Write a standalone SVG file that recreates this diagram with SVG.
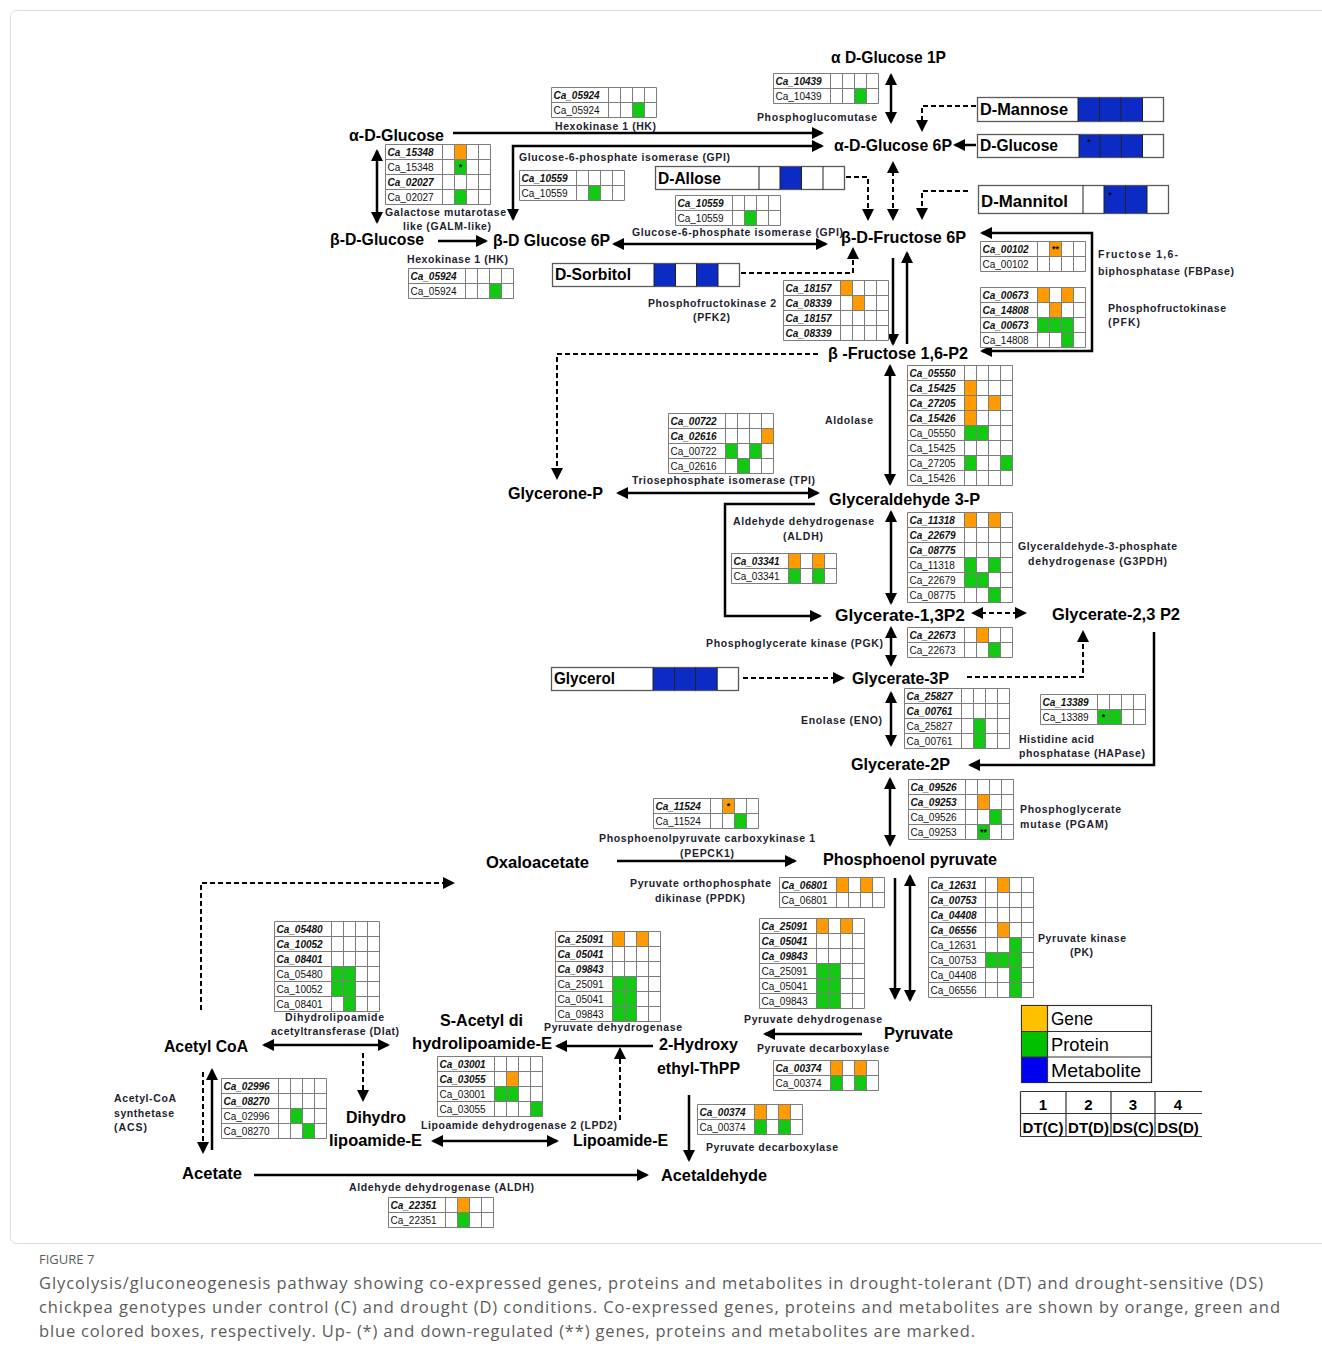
<svg xmlns="http://www.w3.org/2000/svg" xmlns:xlink="http://www.w3.org/1999/xlink" width="1322" height="1364" viewBox="0 0 1322 1364">
<style>
text{font-family:'Liberation Sans',Arial,sans-serif}
.n{font-weight:bold;font-size:17px;fill:#000}
.m{font-weight:bold;font-size:17px;fill:#000}
.e{font-weight:bold;font-size:10.5px;fill:#1e1e30}
.gi{font-style:italic;font-weight:bold;font-size:10px;fill:#111}
.gr{font-size:10px;fill:#111}
.st{font-weight:bold;font-size:9px;fill:#000;text-anchor:middle}
.tb{fill:#fff}
.gl{fill:none;stroke:#7d7d7d;stroke-width:1}
.o{fill:#FF9A00}
.g{fill:#12C812}
.b{fill:#0B2BC4}
.mb{fill:#fff;stroke:#5a5a5a;stroke-width:1.3}
.cl{stroke:#222;stroke-width:1;fill:none}
.ln{fill:none;stroke:#000;stroke-width:2.5}
.dl{fill:none;stroke:#000;stroke-width:2;stroke-dasharray:5 3}
.ae{marker-end:url(#ah)}
.ab{marker-start:url(#ah);marker-end:url(#ah)}
.lg{font-size:19px;fill:#000}
.nt{font-weight:bold;font-size:15px;fill:#000;text-anchor:middle}
.cap{font-family:'Open Sans','Liberation Sans',sans-serif;font-size:16.5px;fill:#5c5c5c}
.fig{font-family:'Open Sans','Liberation Sans',sans-serif;font-size:13px;fill:#5c5c5c}
</style>
<defs>
<marker id="ah" viewBox="0 0 12 12" refX="10" refY="6" markerWidth="12" markerHeight="12" markerUnits="userSpaceOnUse" orient="auto-start-reverse"><path d="M0,0L12,6L0,12z" fill="#000"/></marker>
<path id="g2" class="gl" d="M0,0H105V30H0ZM0,15H105M57,0V30M69,0V30M81,0V30M93,0V30"/>
<path id="g4" class="gl" d="M0,0H105V60H0ZM0,15H105M0,30H105M0,45H105M57,0V60M69,0V60M81,0V60M93,0V60"/>
<path id="g6" class="gl" d="M0,0H105V90H0ZM0,15H105M0,30H105M0,45H105M0,60H105M0,75H105M57,0V90M69,0V90M81,0V90M93,0V90"/>
<path id="g8" class="gl" d="M0,0H105V120H0ZM0,15H105M0,30H105M0,45H105M0,60H105M0,75H105M0,90H105M0,105H105M57,0V120M69,0V120M81,0V120M93,0V120"/>
</defs>
<rect width="1322" height="1364" fill="#fff"/>
<rect x="10.5" y="10.5" width="1330" height="1233" rx="6" fill="none" stroke="#ddd"/>

<!-- connectors -->
<g id="connectors">
<path class="ln ab" d="M891,75V122"/>
<path class="ln ae" d="M453,133H822"/>
<path class="ln ab" d="M822,146H513V219"/>
<path class="ln ab" d="M377,151V222"/>
<path class="ln ae" d="M438,241H486"/>
<path class="ln ab" d="M614,244H826"/>
<path class="dl ae" d="M846,177H868V219"/>
<path class="dl ab" d="M893,163V219"/>
<path class="dl ae" d="M976,106H922V130"/>
<path class="ln ae" d="M976,145H955"/>
<path class="dl ae" d="M968,191H922V218"/>
<path class="dl ae" d="M741,273H853V249"/>
<path class="ln ae" d="M893,258V344"/>
<path class="ln ae" d="M907,344V253"/>
<path class="ln ab" d="M982,233H1092V351H982"/>
<path class="dl ae" d="M818,354H557V478"/>
<path class="ln ab" d="M890,366V484"/>
<path class="ln ab" d="M618,493H818"/>
<path class="ln ae" d="M815,504H725V616H820"/>
<path class="ln ab" d="M891,512V603"/>
<path class="dl ab" d="M973,613H1025"/>
<path class="ln ab" d="M891,628V665"/>
<path class="dl ae" d="M743,678H843"/>
<path class="dl ae" d="M967,677H1083V632"/>
<path class="ln ae" d="M1154,632V765H970"/>
<path class="ln ab" d="M891,693V745"/>
<path class="ln ab" d="M890,779V845"/>
<path class="ln ae" d="M617,861H795"/>
<path class="ln ae" d="M895,878V998"/>
<path class="ln ab" d="M910,876V1000"/>
<path class="ln ae" d="M862,1034H765"/>
<path class="ln ae" d="M653,1046H557"/>
<path class="dl ae" d="M620,1120V1049"/>
<path class="ln ab" d="M264,1045H388"/>
<path class="dl ae" d="M363,1053V1100"/>
<path class="dl ae" d="M201,1010V883H453"/>
<path class="dl ae" d="M203,1072V1152"/>
<path class="ln ae" d="M212,1150V1070"/>
<path class="ln ab" d="M433,1141H557"/>
<path class="ln ae" d="M254,1175H647"/>
<path class="ln ae" d="M689,1095V1160"/>
</g>

<!-- nodes -->
<g id="n-ag1p"><text class="n" x="831" y="63" textLength="115" lengthAdjust="spacingAndGlyphs">α D-Glucose 1P</text></g>
<g id="n-ag6p"><text class="n" x="834" y="151" textLength="118" lengthAdjust="spacingAndGlyphs">α-D-Glucose 6P</text></g>
<g id="n-adg"><text class="n" x="349" y="141" textLength="95" lengthAdjust="spacingAndGlyphs">α-D-Glucose</text></g>
<g id="n-bdg"><text class="n" x="330" y="245" textLength="94" lengthAdjust="spacingAndGlyphs">β-D-Glucose</text></g>
<g id="n-bg6p"><text class="n" x="493" y="246" textLength="117" lengthAdjust="spacingAndGlyphs">β-D Glucose 6P</text></g>
<g id="n-bf6p"><text class="n" x="841" y="243" textLength="125" lengthAdjust="spacingAndGlyphs">β-D-Fructose 6P</text></g>
<g id="n-bf16"><text class="n" x="828" y="359" textLength="140" lengthAdjust="spacingAndGlyphs">β -Fructose 1,6-P2</text></g>
<g id="n-glycp"><text class="n" x="508" y="499" textLength="95" lengthAdjust="spacingAndGlyphs">Glycerone-P</text></g>
<g id="n-g3p"><text class="n" x="829" y="505" textLength="151" lengthAdjust="spacingAndGlyphs">Glyceraldehyde 3-P</text></g>
<g id="n-g13"><text class="n" x="835" y="621" textLength="130" lengthAdjust="spacingAndGlyphs">Glycerate-1,3P2</text></g>
<g id="n-g23"><text class="n" x="1052" y="620" textLength="128" lengthAdjust="spacingAndGlyphs">Glycerate-2,3 P2</text></g>
<g id="n-g3"><text class="n" x="852" y="684" textLength="97" lengthAdjust="spacingAndGlyphs">Glycerate-3P</text></g>
<g id="n-g2"><text class="n" x="851" y="770" textLength="99" lengthAdjust="spacingAndGlyphs">Glycerate-2P</text></g>
<g id="n-pep"><text class="n" x="823" y="865" textLength="174" lengthAdjust="spacingAndGlyphs">Phosphoenol pyruvate</text></g>
<g id="n-oxa"><text class="n" x="486" y="868" textLength="103" lengthAdjust="spacingAndGlyphs">Oxaloacetate</text></g>
<g id="n-pyr"><text class="n" x="884" y="1039" textLength="69" lengthAdjust="spacingAndGlyphs">Pyruvate</text></g>
<g id="n-acoa"><text class="n" x="164" y="1052" textLength="84" lengthAdjust="spacingAndGlyphs">Acetyl CoA</text></g>
<g id="n-sacetyl"><text class="n" x="440" y="1026" textLength="83" lengthAdjust="spacingAndGlyphs">S-Acetyl di</text><text class="n" x="412" y="1049" textLength="140" lengthAdjust="spacingAndGlyphs">hydrolipoamide-E</text></g>
<g id="n-hethpp"><text class="n" x="659" y="1050" textLength="79" lengthAdjust="spacingAndGlyphs">2-Hydroxy</text><text class="n" x="657" y="1074" textLength="83" lengthAdjust="spacingAndGlyphs">ethyl-ThPP</text></g>
<g id="n-dihydro"><text class="n" x="346" y="1123" textLength="60" lengthAdjust="spacingAndGlyphs">Dihydro</text><text class="n" x="329" y="1146" textLength="93" lengthAdjust="spacingAndGlyphs">lipoamide-E</text></g>
<g id="n-lipo"><text class="n" x="573" y="1146" textLength="95" lengthAdjust="spacingAndGlyphs">Lipoamide-E</text></g>
<g id="n-acetate"><text class="n" x="182" y="1179" textLength="60" lengthAdjust="spacingAndGlyphs">Acetate</text></g>
<g id="n-acetald"><text class="n" x="661" y="1181" textLength="106" lengthAdjust="spacingAndGlyphs">Acetaldehyde</text></g>

<!-- metabolite boxes -->
<g id="m-mannose">
<rect class="mb" x="977.5" y="97.5" width="186" height="24"/>
<rect class="b" x="1078" y="98" width="64.5" height="23"/>
<path class="cl" d="M1078,97.5V121.5M1099.5,97.5V121.5M1121,97.5V121.5M1142.5,97.5V121.5"/>
<text class="m" x="980" y="115" textLength="88" lengthAdjust="spacingAndGlyphs">D-Mannose</text>
</g>
<g id="m-glucose">
<rect class="mb" x="977.5" y="134.5" width="186" height="23"/>
<rect class="b" x="1079" y="135" width="63.5" height="22"/>
<path class="cl" d="M1079,134.5V157.5M1100,134.5V157.5M1121.5,134.5V157.5M1142.5,134.5V157.5"/>
<text class="st" x="1089" y="145">*</text>
<text class="m" x="980" y="151" textLength="78" lengthAdjust="spacingAndGlyphs">D-Glucose</text>
</g>
<g id="m-mannitol">
<rect class="mb" x="978.5" y="185.5" width="190" height="28"/>
<rect class="b" x="1104" y="186" width="43" height="27"/>
<path class="cl" d="M1083,185.5V213.5M1104,185.5V213.5M1125.5,185.5V213.5M1147,185.5V213.5"/>
<text class="st" x="1110" y="198">*</text>
<text class="m" x="981" y="207" textLength="87" lengthAdjust="spacingAndGlyphs">D-Mannitol</text>
</g>
<g id="m-allose">
<rect class="mb" x="655.5" y="166.5" width="189" height="23"/>
<rect class="b" x="780" y="167" width="21.5" height="22"/>
<path class="cl" d="M759,166.5V189.5M780,166.5V189.5M801.5,166.5V189.5M823,166.5V189.5"/>
<text class="m" x="658" y="184" textLength="63" lengthAdjust="spacingAndGlyphs">D-Allose</text>
</g>
<g id="m-sorbitol">
<rect class="mb" x="552.5" y="263.5" width="187" height="23"/>
<rect class="b" x="654" y="264" width="21.5" height="22"/>
<rect class="b" x="696.5" y="264" width="21.5" height="22"/>
<path class="cl" d="M654,263.5V286.5M675.5,263.5V286.5M696.5,263.5V286.5M718,263.5V286.5"/>
<text class="m" x="555" y="280" textLength="76" lengthAdjust="spacingAndGlyphs">D-Sorbitol</text>
</g>
<g id="m-glycerol">
<rect class="mb" x="551.5" y="667.5" width="187" height="23"/>
<rect class="b" x="653" y="668" width="64.5" height="22"/>
<path class="cl" d="M653,667.5V690.5M674.5,667.5V690.5M695.5,667.5V690.5M717,667.5V690.5"/>
<text class="m" x="554" y="684" textLength="61" lengthAdjust="spacingAndGlyphs">Glycerol</text>
</g>

<!-- enzyme tables -->
<g id="enz-hk1">
<text class="e" x="555" y="130" textLength="101">Hexokinase 1 (HK)</text>
<g transform="translate(551.5,87.5)"><rect class="tb" width="105" height="30"/><rect class="g" x="81" y="15" width="12" height="15"/><use href="#g2"/><text class="gi" x="2" y="11">Ca_05924</text><text class="gr" x="2" y="26">Ca_05924</text></g>
</g>
<g id="enz-pgm">
<text class="e" x="757" y="121" textLength="120">Phosphoglucomutase</text>
<g transform="translate(773.5,73.5)"><rect class="tb" width="105" height="30"/><rect class="g" x="81" y="15" width="12" height="15"/><use href="#g2"/><text class="gi" x="2" y="11">Ca_10439</text><text class="gr" x="2" y="26">Ca_10439</text></g>
</g>
<g id="enz-galm">
<text class="e" x="385" y="216" textLength="121">Galactose mutarotase</text>
<text class="e" x="403" y="230" textLength="88">like (GALM-like)</text>
<g transform="translate(385.5,144.5)"><rect class="tb" width="105" height="60"/><rect class="o" x="69" y="0" width="12" height="15"/><rect class="g" x="69" y="15" width="12" height="15"/><rect class="g" x="69" y="45" width="12" height="15"/><use href="#g4"/><text class="st" x="75" y="25">*</text><text class="gi" x="2" y="11">Ca_15348</text><text class="gr" x="2" y="26">Ca_15348</text><text class="gi" x="2" y="41">Ca_02027</text><text class="gr" x="2" y="56">Ca_02027</text></g>
</g>
<g id="enz-gpi1">
<text class="e" x="519" y="161" textLength="211">Glucose-6-phosphate isomerase (GPI)</text>
<g transform="translate(519.5,170.5)"><rect class="tb" width="105" height="30"/><rect class="g" x="69" y="15" width="12" height="15"/><use href="#g2"/><text class="gi" x="2" y="11">Ca_10559</text><text class="gr" x="2" y="26">Ca_10559</text></g>
</g>
<g id="enz-gpi2">
<text class="e" x="632" y="236" textLength="211">Glucose-6-phosphate isomerase (GPI)</text>
<g transform="translate(675.5,195.5)"><rect class="tb" width="105" height="30"/><rect class="g" x="69" y="15" width="12" height="15"/><use href="#g2"/><text class="gi" x="2" y="11">Ca_10559</text><text class="gr" x="2" y="26">Ca_10559</text></g>
</g>
<g id="enz-hk2">
<text class="e" x="407" y="263" textLength="101">Hexokinase 1 (HK)</text>
<g transform="translate(408.5,268.5)"><rect class="tb" width="105" height="30"/><rect class="g" x="81" y="15" width="12" height="15"/><use href="#g2"/><text class="gi" x="2" y="11">Ca_05924</text><text class="gr" x="2" y="26">Ca_05924</text></g>
</g>
<g id="enz-pfk2">
<text class="e" x="648" y="307" textLength="128">Phosphofructokinase 2</text>
<text class="e" x="693" y="321" textLength="37">(PFK2)</text>
<g transform="translate(783.5,280.5)"><rect class="tb" width="105" height="60"/><rect class="o" x="57" y="0" width="12" height="15"/><rect class="o" x="69" y="15" width="12" height="15"/><use href="#g4"/><text class="gi" x="2" y="11">Ca_18157</text><text class="gi" x="2" y="26">Ca_08339</text><text class="gi" x="2" y="41">Ca_18157</text><text class="gi" x="2" y="56">Ca_08339</text></g>
</g>
<g id="enz-fbp">
<text class="e" x="1098" y="258" textLength="80">Fructose 1,6-</text>
<text class="e" x="1098" y="275" textLength="136">biphosphatase (FBPase)</text>
<g transform="translate(980.5,241.5)"><rect class="tb" width="105" height="30"/><rect class="o" x="69" y="0" width="12" height="15"/><use href="#g2"/><text class="st" x="75" y="10">**</text><text class="gi" x="2" y="11">Ca_00102</text><text class="gr" x="2" y="26">Ca_00102</text></g>
</g>
<g id="enz-pfk">
<text class="e" x="1108" y="312" textLength="118">Phosphofructokinase</text>
<text class="e" x="1108" y="326" textLength="32">(PFK)</text>
<g transform="translate(980.5,287.5)"><rect class="tb" width="105" height="60"/><rect class="o" x="57" y="0" width="12" height="15"/><rect class="o" x="81" y="0" width="12" height="15"/><rect class="o" x="69" y="15" width="12" height="15"/><rect class="g" x="57" y="30" width="36" height="15"/><rect class="g" x="81" y="45" width="12" height="15"/><use href="#g4"/><text class="gi" x="2" y="11">Ca_00673</text><text class="gi" x="2" y="26">Ca_14808</text><text class="gi" x="2" y="41">Ca_00673</text><text class="gr" x="2" y="56">Ca_14808</text></g>
</g>
<g id="enz-ald">
<text class="e" x="825" y="424" textLength="48">Aldolase</text>
<g transform="translate(907.5,365.5)"><rect class="tb" width="105" height="120"/><rect class="o" x="57" y="15" width="12" height="45"/><rect class="o" x="81" y="30" width="12" height="15"/><rect class="g" x="57" y="60" width="24" height="15"/><rect class="g" x="57" y="90" width="12" height="15"/><rect class="g" x="93" y="90" width="12" height="15"/><use href="#g8"/><text class="gi" x="2" y="11">Ca_05550</text><text class="gi" x="2" y="26">Ca_15425</text><text class="gi" x="2" y="41">Ca_27205</text><text class="gi" x="2" y="56">Ca_15426</text><text class="gr" x="2" y="71">Ca_05550</text><text class="gr" x="2" y="86">Ca_15425</text><text class="gr" x="2" y="101">Ca_27205</text><text class="gr" x="2" y="116">Ca_15426</text></g>
</g>
<g id="enz-tpi">
<text class="e" x="632" y="484" textLength="183">Triosephosphate isomerase (TPI)</text>
<g transform="translate(668.5,413.5)"><rect class="tb" width="105" height="60"/><rect class="o" x="93" y="15" width="12" height="15"/><rect class="g" x="57" y="30" width="12" height="15"/><rect class="g" x="81" y="30" width="12" height="15"/><rect class="g" x="69" y="45" width="12" height="15"/><use href="#g4"/><text class="gi" x="2" y="11">Ca_00722</text><text class="gi" x="2" y="26">Ca_02616</text><text class="gr" x="2" y="41">Ca_00722</text><text class="gr" x="2" y="56">Ca_02616</text></g>
</g>
<g id="enz-g3pdh">
<text class="e" x="1018" y="550" textLength="159">Glyceraldehyde-3-phosphate</text>
<text class="e" x="1028" y="565" textLength="139">dehydrogenase (G3PDH)</text>
<g transform="translate(907.5,512.5)"><rect class="tb" width="105" height="90"/><rect class="o" x="57" y="0" width="12" height="15"/><rect class="o" x="81" y="0" width="12" height="15"/><rect class="g" x="57" y="45" width="12" height="15"/><rect class="g" x="81" y="45" width="12" height="15"/><rect class="g" x="57" y="60" width="24" height="15"/><rect class="g" x="81" y="75" width="12" height="15"/><use href="#g6"/><text class="gi" x="2" y="11">Ca_11318</text><text class="gi" x="2" y="26">Ca_22679</text><text class="gi" x="2" y="41">Ca_08775</text><text class="gr" x="2" y="56">Ca_11318</text><text class="gr" x="2" y="71">Ca_22679</text><text class="gr" x="2" y="86">Ca_08775</text></g>
</g>
<g id="enz-aldh1">
<text class="e" x="733" y="525" textLength="141">Aldehyde dehydrogenase</text>
<text class="e" x="783" y="540" textLength="40">(ALDH)</text>
<g transform="translate(731.5,553.5)"><rect class="tb" width="105" height="30"/><rect class="o" x="57" y="0" width="12" height="15"/><rect class="o" x="81" y="0" width="12" height="15"/><rect class="g" x="57" y="15" width="12" height="15"/><rect class="g" x="81" y="15" width="12" height="15"/><use href="#g2"/><text class="gi" x="2" y="11">Ca_03341</text><text class="gr" x="2" y="26">Ca_03341</text></g>
</g>
<g id="enz-pgk">
<text class="e" x="706" y="647" textLength="177">Phosphoglycerate kinase (PGK)</text>
<g transform="translate(907.5,627.5)"><rect class="tb" width="105" height="30"/><rect class="o" x="69" y="0" width="12" height="15"/><rect class="g" x="81" y="15" width="12" height="15"/><use href="#g2"/><text class="gi" x="2" y="11">Ca_22673</text><text class="gr" x="2" y="26">Ca_22673</text></g>
</g>
<g id="enz-eno">
<text class="e" x="801" y="724" textLength="81">Enolase (ENO)</text>
<g transform="translate(904.5,688.5)"><rect class="tb" width="105" height="60"/><rect class="g" x="69" y="30" width="12" height="30"/><use href="#g4"/><text class="gi" x="2" y="11">Ca_25827</text><text class="gi" x="2" y="26">Ca_00761</text><text class="gr" x="2" y="41">Ca_25827</text><text class="gr" x="2" y="56">Ca_00761</text></g>
</g>
<g id="enz-hap">
<text class="e" x="1019" y="743" textLength="75">Histidine acid</text>
<text class="e" x="1019" y="757" textLength="126">phosphatase (HAPase)</text>
<g transform="translate(1040.5,694.5)"><rect class="tb" width="105" height="30"/><rect class="g" x="57" y="15" width="24" height="15"/><use href="#g2"/><text class="st" x="63" y="25">*</text><text class="gi" x="2" y="11">Ca_13389</text><text class="gr" x="2" y="26">Ca_13389</text></g>
</g>
<g id="enz-pgam">
<text class="e" x="1020" y="813" textLength="101">Phosphoglycerate</text>
<text class="e" x="1020" y="828" textLength="88">mutase (PGAM)</text>
<g transform="translate(908.5,779.5)"><rect class="tb" width="105" height="60"/><rect class="o" x="69" y="15" width="12" height="15"/><rect class="g" x="81" y="30" width="12" height="15"/><rect class="g" x="69" y="45" width="12" height="15"/><use href="#g4"/><text class="st" x="75" y="55">**</text><text class="gi" x="2" y="11">Ca_09526</text><text class="gi" x="2" y="26">Ca_09253</text><text class="gr" x="2" y="41">Ca_09526</text><text class="gr" x="2" y="56">Ca_09253</text></g>
</g>
<g id="enz-pepck">
<text class="e" x="599" y="842" textLength="216">Phosphoenolpyruvate carboxykinase 1</text>
<text class="e" x="680" y="857" textLength="54">(PEPCK1)</text>
<g transform="translate(653.5,798.5)"><rect class="tb" width="105" height="30"/><rect class="o" x="69" y="0" width="12" height="15"/><rect class="g" x="81" y="15" width="12" height="15"/><use href="#g2"/><text class="st" x="75" y="10">*</text><text class="gi" x="2" y="11">Ca_11524</text><text class="gr" x="2" y="26">Ca_11524</text></g>
</g>
<g id="enz-ppdk">
<text class="e" x="630" y="887" textLength="141">Pyruvate orthophosphate</text>
<text class="e" x="655" y="902" textLength="90">dikinase (PPDK)</text>
<g transform="translate(779.5,877.5)"><rect class="tb" width="105" height="30"/><rect class="o" x="57" y="0" width="12" height="15"/><rect class="o" x="81" y="0" width="12" height="15"/><use href="#g2"/><text class="gi" x="2" y="11">Ca_06801</text><text class="gr" x="2" y="26">Ca_06801</text></g>
</g>
<g id="enz-pdh1">
<text class="e" x="544" y="1031" textLength="138">Pyruvate dehydrogenase</text>
<g transform="translate(555.5,931.5)"><rect class="tb" width="105" height="90"/><rect class="o" x="57" y="0" width="12" height="15"/><rect class="o" x="81" y="0" width="12" height="15"/><rect class="g" x="57" y="45" width="24" height="45"/><use href="#g6"/><text class="gi" x="2" y="11">Ca_25091</text><text class="gi" x="2" y="26">Ca_05041</text><text class="gi" x="2" y="41">Ca_09843</text><text class="gr" x="2" y="56">Ca_25091</text><text class="gr" x="2" y="71">Ca_05041</text><text class="gr" x="2" y="86">Ca_09843</text></g>
</g>
<g id="enz-pdh2">
<text class="e" x="744" y="1023" textLength="138">Pyruvate dehydrogenase</text>
<g transform="translate(759.5,918.5)"><rect class="tb" width="105" height="90"/><rect class="o" x="57" y="0" width="12" height="15"/><rect class="o" x="81" y="0" width="12" height="15"/><rect class="g" x="57" y="45" width="24" height="45"/><use href="#g6"/><text class="gi" x="2" y="11">Ca_25091</text><text class="gi" x="2" y="26">Ca_05041</text><text class="gi" x="2" y="41">Ca_09843</text><text class="gr" x="2" y="56">Ca_25091</text><text class="gr" x="2" y="71">Ca_05041</text><text class="gr" x="2" y="86">Ca_09843</text></g>
</g>
<g id="enz-pk">
<text class="e" x="1038" y="942" textLength="88">Pyruvate kinase</text>
<text class="e" x="1070" y="956" textLength="23">(PK)</text>
<g transform="translate(928.5,877.5)"><rect class="tb" width="105" height="120"/><rect class="o" x="69" y="0" width="12" height="15"/><rect class="o" x="69" y="45" width="12" height="15"/><rect class="g" x="81" y="60" width="12" height="60"/><rect class="g" x="57" y="75" width="24" height="15"/><use href="#g8"/><text class="gi" x="2" y="11">Ca_12631</text><text class="gi" x="2" y="26">Ca_00753</text><text class="gi" x="2" y="41">Ca_04408</text><text class="gi" x="2" y="56">Ca_06556</text><text class="gr" x="2" y="71">Ca_12631</text><text class="gr" x="2" y="86">Ca_00753</text><text class="gr" x="2" y="101">Ca_04408</text><text class="gr" x="2" y="116">Ca_06556</text></g>
</g>
<g id="enz-pdc1">
<text class="e" x="757" y="1052" textLength="132">Pyruvate decarboxylase</text>
<g transform="translate(773.5,1060.5)"><rect class="tb" width="105" height="30"/><rect class="o" x="57" y="0" width="12" height="15"/><rect class="o" x="81" y="0" width="12" height="15"/><rect class="g" x="57" y="15" width="12" height="15"/><rect class="g" x="81" y="15" width="12" height="15"/><use href="#g2"/><text class="gi" x="2" y="11">Ca_00374</text><text class="gr" x="2" y="26">Ca_00374</text></g>
</g>
<g id="enz-pdc2">
<text class="e" x="706" y="1151" textLength="132">Pyruvate decarboxylase</text>
<g transform="translate(697.5,1104.5)"><rect class="tb" width="105" height="30"/><rect class="o" x="57" y="0" width="12" height="15"/><rect class="o" x="81" y="0" width="12" height="15"/><rect class="g" x="57" y="15" width="12" height="15"/><rect class="g" x="81" y="15" width="12" height="15"/><use href="#g2"/><text class="gi" x="2" y="11">Ca_00374</text><text class="gr" x="2" y="26">Ca_00374</text></g>
</g>
<g id="enz-dlat">
<text class="e" x="285" y="1021" textLength="99">Dihydrolipoamide</text>
<text class="e" x="271" y="1035" textLength="128">acetyltransferase (Dlat)</text>
<g transform="translate(274.5,921.5)"><rect class="tb" width="105" height="90"/><rect class="g" x="57" y="45" width="24" height="30"/><rect class="g" x="69" y="75" width="12" height="15"/><use href="#g6"/><text class="gi" x="2" y="11">Ca_05480</text><text class="gi" x="2" y="26">Ca_10052</text><text class="gi" x="2" y="41">Ca_08401</text><text class="gr" x="2" y="56">Ca_05480</text><text class="gr" x="2" y="71">Ca_10052</text><text class="gr" x="2" y="86">Ca_08401</text></g>
</g>
<g id="enz-lpd2">
<text class="e" x="421" y="1129" textLength="196">Lipoamide dehydrogenase 2 (LPD2)</text>
<g transform="translate(437.5,1056.5)"><rect class="tb" width="105" height="60"/><rect class="o" x="69" y="15" width="12" height="15"/><rect class="g" x="57" y="30" width="24" height="15"/><rect class="g" x="93" y="45" width="12" height="15"/><use href="#g4"/><text class="gi" x="2" y="11">Ca_03001</text><text class="gi" x="2" y="26">Ca_03055</text><text class="gr" x="2" y="41">Ca_03001</text><text class="gr" x="2" y="56">Ca_03055</text></g>
</g>
<g id="enz-acs">
<text class="e" x="114" y="1102" textLength="62">Acetyl-CoA</text>
<text class="e" x="114" y="1117" textLength="60">synthetase</text>
<text class="e" x="114" y="1131" textLength="33">(ACS)</text>
<g transform="translate(221.5,1078.5)"><rect class="tb" width="105" height="60"/><rect class="g" x="69" y="30" width="12" height="15"/><rect class="g" x="81" y="45" width="12" height="15"/><use href="#g4"/><text class="gi" x="2" y="11">Ca_02996</text><text class="gi" x="2" y="26">Ca_08270</text><text class="gr" x="2" y="41">Ca_02996</text><text class="gr" x="2" y="56">Ca_08270</text></g>
</g>
<g id="enz-aldh2">
<text class="e" x="349" y="1191" textLength="185">Aldehyde dehydrogenase (ALDH)</text>
<g transform="translate(388.5,1197.5)"><rect class="tb" width="105" height="30"/><rect class="o" x="69" y="0" width="12" height="15"/><rect class="g" x="69" y="15" width="12" height="15"/><use href="#g2"/><text class="gi" x="2" y="11">Ca_22351</text><text class="gr" x="2" y="26">Ca_22351</text></g>
</g>

<!-- legend -->
<g id="legend">
<rect x="1021.5" y="1005.5" width="130" height="77" fill="#fff" stroke="#333" stroke-width="1.2"/>
<rect x="1022" y="1006" width="25.5" height="25.5" fill="#FFC000"/>
<rect x="1022" y="1031.5" width="25.5" height="25.5" fill="#00C000"/>
<rect x="1022" y="1057" width="25.5" height="25.5" fill="#0000F0"/>
<path d="M1021.5,1031.5H1151.5M1021.5,1057H1151.5M1047.5,1005.5V1082.5" stroke="#333" stroke-width="1.2" fill="none"/>
<text class="lg" x="1051" y="1025" textLength="42" lengthAdjust="spacingAndGlyphs">Gene</text>
<text class="lg" x="1051" y="1051" textLength="58" lengthAdjust="spacingAndGlyphs">Protein</text>
<text class="lg" x="1051" y="1077" textLength="90" lengthAdjust="spacingAndGlyphs">Metabolite</text>
</g>
<g id="numbers">
<path d="M1020.5,1091.5H1202M1020.5,1113.5H1202M1020.5,1136.5H1202M1020.5,1091.5V1136.5M1066,1091.5V1136.5M1111,1091.5V1136.5M1155,1091.5V1136.5" stroke="#333" stroke-width="1.2" fill="none"/>
<text class="nt" x="1043" y="1110">1</text>
<text class="nt" x="1088.5" y="1110">2</text>
<text class="nt" x="1133" y="1110">3</text>
<text class="nt" x="1178" y="1110">4</text>
<text class="nt" x="1043" y="1133">DT(C)</text>
<text class="nt" x="1088.5" y="1133">DT(D)</text>
<text class="nt" x="1133" y="1133">DS(C)</text>
<text class="nt" x="1178" y="1133">DS(D)</text>
</g>

<!-- caption -->
<g id="caption">
<text class="fig" x="39" y="1264">FIGURE 7</text>
<text class="cap" x="39" y="1289" textLength="1224">Glycolysis/gluconeogenesis pathway showing co-expressed genes, proteins and metabolites in drought-tolerant (DT) and drought-sensitive (DS)</text>
<text class="cap" x="39" y="1313" textLength="1241">chickpea genotypes under control (C) and drought (D) conditions. Co-expressed genes, proteins and metabolites are shown by orange, green and</text>
<text class="cap" x="39" y="1337" textLength="936">blue colored boxes, respectively. Up- (*) and down-regulated (**) genes, proteins and metabolites are marked.</text>
</g>
</svg>
